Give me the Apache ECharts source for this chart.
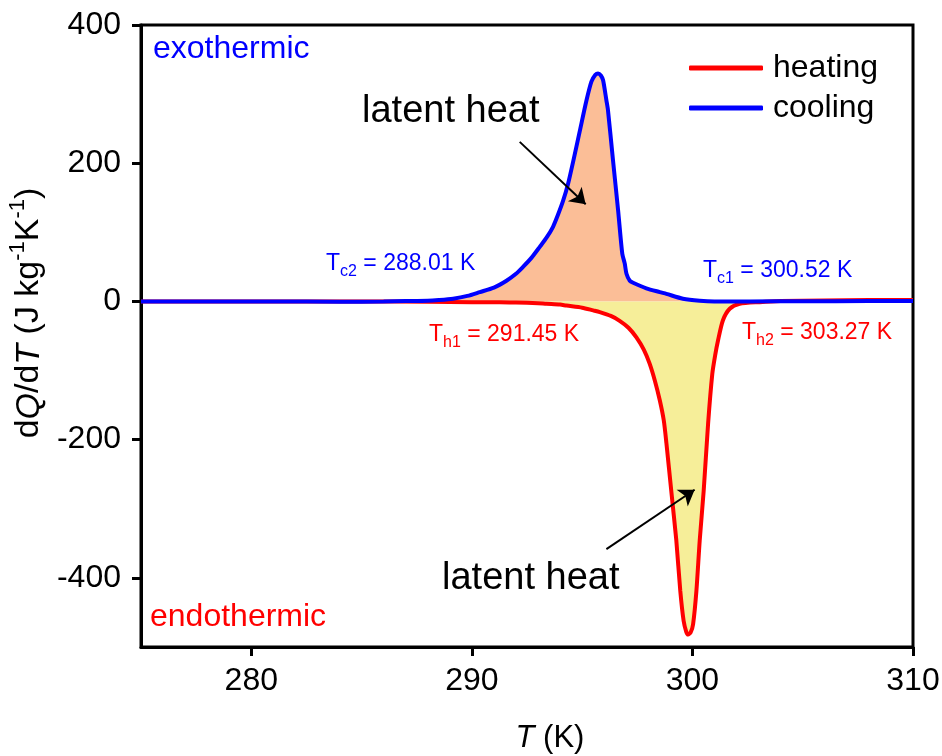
<!DOCTYPE html>
<html>
<head>
<meta charset="utf-8">
<script src="https://cdn.jsdelivr.net/npm/echarts@6/dist/echarts.min.js"></script>
<style>
  html, body { margin: 0; padding: 0; background: #fff; }
  #chart { width: 942px; height: 756px; }
</style>
</head>
<body>
<div id="chart"></div>
<script>
// Temperature axis (K) and dQ/dT values (J kg^-1 K^-1) for the heating run
const heatT = [275, 280, 285, 288, 290, 291.27, 292, 293, 293.38, 294, 294.29, 295, 295.5, 295.8,
  296.3, 296.7, 297.1, 297.46, 297.8, 298.06, 298.3, 298.52, 298.7, 298.82, 299.04, 299.27, 299.45,
  299.6, 299.72, 299.8, 299.92, 300.03, 300.18, 300.33, 300.51, 300.71, 300.9, 301.03, 301.16,
  301.38, 301.69, 302.14, 303.05, 304, 306, 308, 310];
const heatQ = [0, 0, 0, -0.5, -1, -1, -1.5, -2.5, -3.4, -4.5, -6, -9, -13, -15.5,
  -21, -28, -38, -52, -70, -90, -115, -143, -172, -205, -274, -346, -419,
  -462, -478, -482, -479, -467, -419, -346, -274, -177, -105, -78, -56.5,
  -27.5, -10.6, -3.4, -1, 0.5, 1.5, 2, 2];

// Cooling run
const coolT = [275, 278, 281, 284, 286, 287, 288, 288.5, 289.15, 289.8, 290.36, 291, 291.57, 292,
  292.32, 292.7, 293.08, 293.4, 293.68, 293.9, 294.13, 294.36, 294.59, 294.89, 295.19, 295.42,
  295.6, 295.72, 295.85, 295.95, 296.1, 296.17, 296.4, 296.63, 296.82, 296.93, 297.01, 297.16,
  297.31, 297.91, 298.52, 298.82, 299.57, 300.33, 301, 302.6, 305, 308, 310];
const coolQ = [0, 0, 0, -0.5, 0, 0.5, 1, 2, 4, 8, 13.5, 20, 30, 40,
  50, 63, 79, 93, 108, 125, 145, 170, 202, 246, 290, 318,
  328, 330, 327, 320, 291, 277, 204, 132, 69, 55, 40, 30,
  27, 19, 13.5, 11, 4, 1, 0, 0, 0.3, 0.5, 0.5];

// Transition temperatures (K)
const Tc2 = 288.01, Tc1 = 300.52;
const Th1 = 291.45, Th2 = 303.27;

// Axis ticks
const xTicks = [280, 290, 300, 310];
const yTicks = [-400, -200, 0, 200, 400];

const FONT = '"Liberation Sans", Arial, sans-serif';

const pairs = (xs, ys) => xs.map((x, i) => [x, ys[i]]);
const within = (xs, ys, lo, hi) => pairs(xs, ys).filter(p => p[0] >= lo && p[0] <= hi);

const heating = pairs(heatT, heatQ);
const cooling = pairs(coolT, coolQ);
const heatLatent = within(heatT, heatQ, Th1, Th2);
const coolLatent = within(coolT, coolQ, Tc2, Tc1);

const chart = echarts.init(document.getElementById('chart'), null, { renderer: 'canvas' });

const fmt = v => v.toFixed(2);

// Transition-temperature label with a subscript, e.g. T_c2 = 288.01 K
function tLabel(sub, value, color, left, y) {
  return {
    type: 'text', left: left, top: y - 16, z: 50,
    style: {
      text: '{t|T}{s|' + sub + '}{t| = ' + fmt(value) + ' K}',
      fill: color,
      font: '23px ' + FONT,
      rich: {
        t: { fontSize: 23, fontFamily: FONT, fill: color, color: color },
        s: { fontSize: 16, fontFamily: FONT, fill: color, color: color, padding: [16, 0, 0, 0] }
      }
    }
  };
}

const option = {
  animation: false,
  backgroundColor: '#fff',
  grid: {
    left: 141, right: 29, top: 25, bottom: 109,
    show: true, borderColor: '#000', borderWidth: 3,
    outerBoundsMode: 'none'
  },
  legend: {
    data: ['heating', 'cooling'],
    orient: 'vertical',
    left: 689, top: 52,
    padding: 0,
    itemWidth: 74, itemHeight: 5,
    itemGap: 8,
    icon: 'roundRect',
    textStyle: { fontSize: 32, fontFamily: FONT, color: '#000', padding: [0, 0, 0, 5] }
  },
  xAxis: {
    type: 'value', min: 275, max: 310,
    name: '{i|T}{r| (K)}',
    nameLocation: 'middle', nameGap: 76,
    nameTextStyle: {
      padding: [0, 0, 0, 46],
      rich: {
        i: { fontSize: 31, fontFamily: FONT, fontStyle: 'italic', color: '#000' },
        r: { fontSize: 31, fontFamily: FONT, color: '#000' }
      }
    },
    axisLine: { show: true, onZero: false, lineStyle: { color: '#000', width: 3 } },
    axisTick: { show: true, inside: false, length: 9, lineStyle: { color: '#000', width: 3 }, customValues: xTicks },
    axisLabel: { fontSize: 32, fontFamily: FONT, color: '#000', margin: 18, customValues: xTicks },
    splitLine: { show: false }
  },
  yAxis: {
    type: 'value', min: -500, max: 400,
    name: '{r|d}{i|Q}{r|/d}{i|T}{r| (J kg}{s|-1}{r|K}{s|-1}{r|)}',
    nameLocation: 'middle', nameRotate: 90, nameGap: 84,
    nameTextStyle: {
      padding: [0, 0, 0, 46],
      rich: {
        r: { fontSize: 34, fontFamily: FONT, color: '#000' },
        i: { fontSize: 34, fontFamily: FONT, fontStyle: 'italic', color: '#000' },
        s: { fontSize: 22, fontFamily: FONT, color: '#000', padding: [0, 0, 22, 0] }
      }
    },
    axisLine: { show: true, onZero: false, lineStyle: { color: '#000', width: 3 } },
    axisTick: { show: true, inside: false, length: 9, lineStyle: { color: '#000', width: 3 }, customValues: yTicks },
    axisLabel: { fontSize: 32, fontFamily: FONT, color: '#000', margin: 20, customValues: yTicks },
    splitLine: { show: false }
  },
  series: [
    {
      name: 'cooling latent heat', type: 'line', data: coolLatent,
      smooth: 0.25, showSymbol: false, silent: true, z: 1,
      lineStyle: { width: 0 }, itemStyle: { color: '#FBBE97' },
      areaStyle: { color: '#FBBE97', opacity: 1 }
    },
    {
      name: 'heating latent heat', type: 'line', data: heatLatent,
      smooth: 0.25, showSymbol: false, silent: true, z: 1,
      lineStyle: { width: 0 }, itemStyle: { color: '#F6EE99' },
      areaStyle: { color: '#F6EE99', opacity: 1 }
    },
    {
      name: 'heating', type: 'line', data: heating,
      smooth: 0.25, showSymbol: false, z: 3,
      itemStyle: { color: '#FF0000' },
      lineStyle: { color: '#FF0000', width: 4 }
    },
    {
      name: 'cooling', type: 'line', data: cooling,
      smooth: 0.25, showSymbol: false, z: 4,
      itemStyle: { color: '#0000FF' },
      lineStyle: { color: '#0000FF', width: 4 }
    },
    {
      name: 'arrows', type: 'line', data: [], z: 5,
      markLine: {
        silent: true, animation: false,
        symbol: ['none', 'arrow'], symbolSize: 15,
        lineStyle: { color: '#000', width: 2, type: 'solid' },
        label: { show: false },
        data: [
          [{ coord: [292.17, 230.9] }, { coord: [295.16, 140.6] }],
          [{ coord: [296.10, -358.4] }, { coord: [300.10, -272.5] }]
        ]
      }
    }
  ],
  graphic: [
    { type: 'text', left: 153, top: 33, z: 50,
      style: { text: 'exothermic', fill: '#0000FF', font: '32px ' + FONT } },
    { type: 'text', left: 150, top: 601, z: 50,
      style: { text: 'endothermic', fill: '#FF0000', font: '32px ' + FONT } },
    { type: 'text', left: 362, top: 93, z: 50,
      style: { text: 'latent heat', fill: '#000', font: '38px ' + FONT } },
    { type: 'text', left: 442, top: 560, z: 50,
      style: { text: 'latent heat', fill: '#000', font: '38px ' + FONT } },
    tLabel('c2', Tc2, '#0000FF', 326, 268),
    tLabel('c1', Tc1, '#0000FF', 703, 275),
    tLabel('h1', Th1, '#FF0000', 429, 339),
    tLabel('h2', Th2, '#FF0000', 742, 337)
  ]
};

chart.setOption(option);
</script>
</body>
</html>
